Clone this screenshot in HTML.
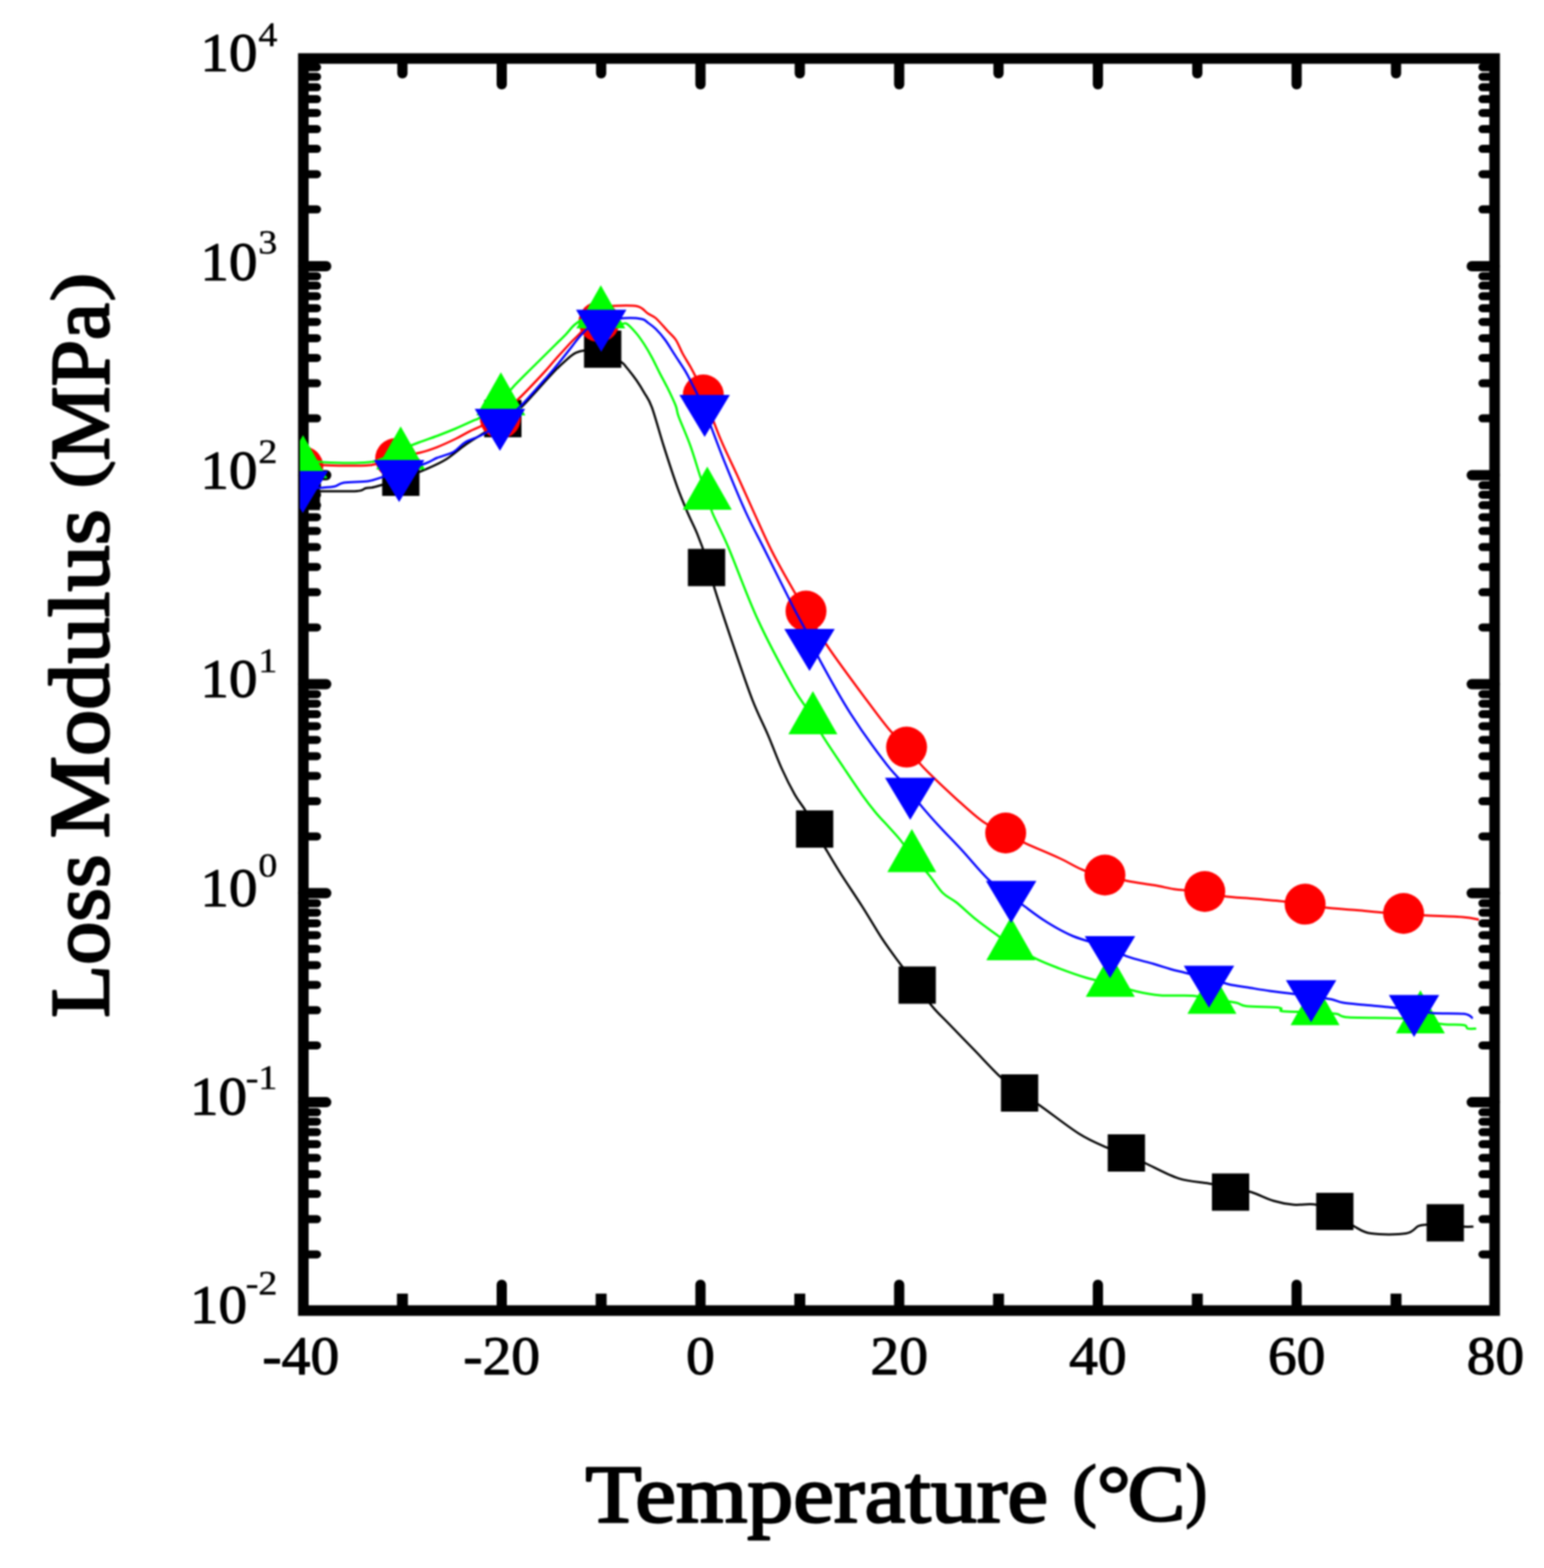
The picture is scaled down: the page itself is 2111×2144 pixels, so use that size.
<!DOCTYPE html>
<html><head><meta charset="utf-8"><title>Loss Modulus vs Temperature</title>
<style>html,body{margin:0;padding:0;background:#fff;width:2111px;height:2144px;overflow:hidden}svg{display:block;filter:blur(1.0px)}</style>
</head><body>
<svg width="2111" height="2144" viewBox="0 0 2111 2144"><g stroke="#000" stroke-width="14" stroke-linecap="round"><line x1="550.2" y1="1792.0" x2="550.2" y2="1768.8" stroke-linecap="butt" stroke-width="15"/><line x1="550.2" y1="80.0" x2="550.2" y2="100.2"/><line x1="686.0" y1="1792.0" x2="686.0" y2="1756.8"/><line x1="686.0" y1="80.0" x2="686.0" y2="115.2"/><line x1="821.9" y1="1792.0" x2="821.9" y2="1768.8" stroke-linecap="butt" stroke-width="15"/><line x1="821.9" y1="80.0" x2="821.9" y2="100.2"/><line x1="957.7" y1="1792.0" x2="957.7" y2="1756.8"/><line x1="957.7" y1="80.0" x2="957.7" y2="115.2"/><line x1="1093.5" y1="1792.0" x2="1093.5" y2="1768.8" stroke-linecap="butt" stroke-width="15"/><line x1="1093.5" y1="80.0" x2="1093.5" y2="100.2"/><line x1="1229.4" y1="1792.0" x2="1229.4" y2="1756.8"/><line x1="1229.4" y1="80.0" x2="1229.4" y2="115.2"/><line x1="1365.2" y1="1792.0" x2="1365.2" y2="1768.8" stroke-linecap="butt" stroke-width="15"/><line x1="1365.2" y1="80.0" x2="1365.2" y2="100.2"/><line x1="1501.1" y1="1792.0" x2="1501.1" y2="1756.8"/><line x1="1501.1" y1="80.0" x2="1501.1" y2="115.2"/><line x1="1637.0" y1="1792.0" x2="1637.0" y2="1768.8" stroke-linecap="butt" stroke-width="15"/><line x1="1637.0" y1="80.0" x2="1637.0" y2="100.2"/><line x1="1772.8" y1="1792.0" x2="1772.8" y2="1756.8"/><line x1="1772.8" y1="80.0" x2="1772.8" y2="115.2"/><line x1="1908.7" y1="1792.0" x2="1908.7" y2="1768.8" stroke-linecap="butt" stroke-width="15"/><line x1="1908.7" y1="80.0" x2="1908.7" y2="100.2"/><line x1="414.8" y1="1507.1" x2="446.0" y2="1507.1"/><line x1="2043.5" y1="1507.1" x2="2012.2" y2="1507.1"/><line x1="414.8" y1="1221.3" x2="446.0" y2="1221.3"/><line x1="2043.5" y1="1221.3" x2="2012.2" y2="1221.3"/><line x1="414.8" y1="935.5" x2="446.0" y2="935.5"/><line x1="2043.5" y1="935.5" x2="2012.2" y2="935.5"/><line x1="414.8" y1="649.8" x2="446.0" y2="649.8"/><line x1="2043.5" y1="649.8" x2="2012.2" y2="649.8"/><line x1="414.8" y1="364.0" x2="446.0" y2="364.0"/><line x1="2043.5" y1="364.0" x2="2012.2" y2="364.0"/></g>
<g stroke="#000" stroke-width="11" stroke-linecap="round"><line x1="414.8" y1="1715.2" x2="433.5" y2="1715.2"/><line x1="2043.5" y1="1715.2" x2="2026.8" y2="1715.2"/><line x1="414.8" y1="1667.1" x2="433.5" y2="1667.1"/><line x1="2043.5" y1="1667.1" x2="2026.8" y2="1667.1"/><line x1="414.8" y1="1632.5" x2="433.5" y2="1632.5"/><line x1="2043.5" y1="1632.5" x2="2026.8" y2="1632.5"/><line x1="414.8" y1="1605.5" x2="433.5" y2="1605.5"/><line x1="2043.5" y1="1605.5" x2="2026.8" y2="1605.5"/><line x1="414.8" y1="1583.3" x2="433.5" y2="1583.3"/><line x1="2043.5" y1="1583.3" x2="2026.8" y2="1583.3"/><line x1="414.8" y1="1564.5" x2="433.5" y2="1564.5"/><line x1="2043.5" y1="1564.5" x2="2026.8" y2="1564.5"/><line x1="414.8" y1="1548.1" x2="433.5" y2="1548.1"/><line x1="2043.5" y1="1548.1" x2="2026.8" y2="1548.1"/><line x1="414.8" y1="1533.7" x2="433.5" y2="1533.7"/><line x1="2043.5" y1="1533.7" x2="2026.8" y2="1533.7"/><line x1="414.8" y1="1520.8" x2="433.5" y2="1520.8"/><line x1="2043.5" y1="1520.8" x2="2026.8" y2="1520.8"/><line x1="414.8" y1="1429.4" x2="433.5" y2="1429.4"/><line x1="2043.5" y1="1429.4" x2="2026.8" y2="1429.4"/><line x1="414.8" y1="1381.3" x2="433.5" y2="1381.3"/><line x1="2043.5" y1="1381.3" x2="2026.8" y2="1381.3"/><line x1="414.8" y1="1346.7" x2="433.5" y2="1346.7"/><line x1="2043.5" y1="1346.7" x2="2026.8" y2="1346.7"/><line x1="414.8" y1="1319.7" x2="433.5" y2="1319.7"/><line x1="2043.5" y1="1319.7" x2="2026.8" y2="1319.7"/><line x1="414.8" y1="1297.5" x2="433.5" y2="1297.5"/><line x1="2043.5" y1="1297.5" x2="2026.8" y2="1297.5"/><line x1="414.8" y1="1278.7" x2="433.5" y2="1278.7"/><line x1="2043.5" y1="1278.7" x2="2026.8" y2="1278.7"/><line x1="414.8" y1="1262.4" x2="433.5" y2="1262.4"/><line x1="2043.5" y1="1262.4" x2="2026.8" y2="1262.4"/><line x1="414.8" y1="1247.9" x2="433.5" y2="1247.9"/><line x1="2043.5" y1="1247.9" x2="2026.8" y2="1247.9"/><line x1="414.8" y1="1235.0" x2="433.5" y2="1235.0"/><line x1="2043.5" y1="1235.0" x2="2026.8" y2="1235.0"/><line x1="414.8" y1="1143.7" x2="433.5" y2="1143.7"/><line x1="2043.5" y1="1143.7" x2="2026.8" y2="1143.7"/><line x1="414.8" y1="1095.5" x2="433.5" y2="1095.5"/><line x1="2043.5" y1="1095.5" x2="2026.8" y2="1095.5"/><line x1="414.8" y1="1060.9" x2="433.5" y2="1060.9"/><line x1="2043.5" y1="1060.9" x2="2026.8" y2="1060.9"/><line x1="414.8" y1="1033.9" x2="433.5" y2="1033.9"/><line x1="2043.5" y1="1033.9" x2="2026.8" y2="1033.9"/><line x1="414.8" y1="1011.7" x2="433.5" y2="1011.7"/><line x1="2043.5" y1="1011.7" x2="2026.8" y2="1011.7"/><line x1="414.8" y1="992.9" x2="433.5" y2="992.9"/><line x1="2043.5" y1="992.9" x2="2026.8" y2="992.9"/><line x1="414.8" y1="976.6" x2="433.5" y2="976.6"/><line x1="2043.5" y1="976.6" x2="2026.8" y2="976.6"/><line x1="414.8" y1="962.2" x2="433.5" y2="962.2"/><line x1="2043.5" y1="962.2" x2="2026.8" y2="962.2"/><line x1="414.8" y1="949.2" x2="433.5" y2="949.2"/><line x1="2043.5" y1="949.2" x2="2026.8" y2="949.2"/><line x1="414.8" y1="857.9" x2="433.5" y2="857.9"/><line x1="2043.5" y1="857.9" x2="2026.8" y2="857.9"/><line x1="414.8" y1="809.8" x2="433.5" y2="809.8"/><line x1="2043.5" y1="809.8" x2="2026.8" y2="809.8"/><line x1="414.8" y1="775.2" x2="433.5" y2="775.2"/><line x1="2043.5" y1="775.2" x2="2026.8" y2="775.2"/><line x1="414.8" y1="748.1" x2="433.5" y2="748.1"/><line x1="2043.5" y1="748.1" x2="2026.8" y2="748.1"/><line x1="414.8" y1="726.0" x2="433.5" y2="726.0"/><line x1="2043.5" y1="726.0" x2="2026.8" y2="726.0"/><line x1="414.8" y1="707.2" x2="433.5" y2="707.2"/><line x1="2043.5" y1="707.2" x2="2026.8" y2="707.2"/><line x1="414.8" y1="690.8" x2="433.5" y2="690.8"/><line x1="2043.5" y1="690.8" x2="2026.8" y2="690.8"/><line x1="414.8" y1="676.4" x2="433.5" y2="676.4"/><line x1="2043.5" y1="676.4" x2="2026.8" y2="676.4"/><line x1="414.8" y1="663.5" x2="433.5" y2="663.5"/><line x1="2043.5" y1="663.5" x2="2026.8" y2="663.5"/><line x1="414.8" y1="572.1" x2="433.5" y2="572.1"/><line x1="2043.5" y1="572.1" x2="2026.8" y2="572.1"/><line x1="414.8" y1="524.0" x2="433.5" y2="524.0"/><line x1="2043.5" y1="524.0" x2="2026.8" y2="524.0"/><line x1="414.8" y1="489.4" x2="433.5" y2="489.4"/><line x1="2043.5" y1="489.4" x2="2026.8" y2="489.4"/><line x1="414.8" y1="462.4" x2="433.5" y2="462.4"/><line x1="2043.5" y1="462.4" x2="2026.8" y2="462.4"/><line x1="414.8" y1="440.2" x2="433.5" y2="440.2"/><line x1="2043.5" y1="440.2" x2="2026.8" y2="440.2"/><line x1="414.8" y1="421.4" x2="433.5" y2="421.4"/><line x1="2043.5" y1="421.4" x2="2026.8" y2="421.4"/><line x1="414.8" y1="405.1" x2="433.5" y2="405.1"/><line x1="2043.5" y1="405.1" x2="2026.8" y2="405.1"/><line x1="414.8" y1="390.6" x2="433.5" y2="390.6"/><line x1="2043.5" y1="390.6" x2="2026.8" y2="390.6"/><line x1="414.8" y1="377.7" x2="433.5" y2="377.7"/><line x1="2043.5" y1="377.7" x2="2026.8" y2="377.7"/><line x1="414.8" y1="286.3" x2="433.5" y2="286.3"/><line x1="2043.5" y1="286.3" x2="2026.8" y2="286.3"/><line x1="414.8" y1="238.2" x2="433.5" y2="238.2"/><line x1="2043.5" y1="238.2" x2="2026.8" y2="238.2"/><line x1="414.8" y1="203.6" x2="433.5" y2="203.6"/><line x1="2043.5" y1="203.6" x2="2026.8" y2="203.6"/><line x1="414.8" y1="176.6" x2="433.5" y2="176.6"/><line x1="2043.5" y1="176.6" x2="2026.8" y2="176.6"/><line x1="414.8" y1="154.4" x2="433.5" y2="154.4"/><line x1="2043.5" y1="154.4" x2="2026.8" y2="154.4"/><line x1="414.8" y1="135.6" x2="433.5" y2="135.6"/><line x1="2043.5" y1="135.6" x2="2026.8" y2="135.6"/><line x1="414.8" y1="119.3" x2="433.5" y2="119.3"/><line x1="2043.5" y1="119.3" x2="2026.8" y2="119.3"/><line x1="414.8" y1="104.9" x2="433.5" y2="104.9"/><line x1="2043.5" y1="104.9" x2="2026.8" y2="104.9"/><line x1="414.8" y1="91.9" x2="433.5" y2="91.9"/><line x1="2043.5" y1="91.9" x2="2026.8" y2="91.9"/></g>
<rect x="414.75" y="80.00" width="1628.75" height="1712.00" fill="none" stroke="#000" stroke-width="14.5"/>
<defs><clipPath id="pa"><rect x="410" y="80" width="1640" height="1712"/></clipPath></defs>
<g clip-path="url(#pa)">
<path d="M422.0,672.0 C424.3,672.0 425.0,671.8 436.0,671.7 C447.0,671.6 477.3,672.2 488.0,671.5 C498.7,670.8 495.9,668.5 500.0,667.5 C504.1,666.5 504.6,667.9 512.6,665.8 C520.6,663.7 535.9,659.2 548.0,655.0 C560.1,650.8 574.8,644.8 585.2,640.3 C595.6,635.8 602.0,633.0 610.4,627.7 C618.8,622.4 627.2,614.6 635.6,608.7 C644.0,602.8 652.2,598.0 660.8,592.4 C669.4,586.8 678.6,580.7 687.0,575.0 C695.4,569.3 699.9,569.1 711.3,558.3 C722.7,547.5 744.6,521.6 755.4,510.4 C766.1,499.1 770.5,495.4 775.8,490.8 C781.0,486.2 783.0,484.6 786.9,482.7 C790.8,480.8 792.7,479.6 798.9,479.2 C805.1,478.8 815.6,477.4 824.0,480.0 C832.4,482.6 843.9,491.3 849.3,495.0 C854.7,498.7 853.1,498.2 856.6,502.4 C860.1,506.6 866.3,514.4 870.3,520.2 C874.3,526.0 877.3,530.9 880.8,537.0 C884.3,543.1 886.9,544.9 891.3,557.0 C895.7,569.1 901.7,591.8 907.4,609.8 C913.1,627.8 920.2,649.7 925.7,665.0 C931.2,680.3 935.8,690.9 940.4,701.7 C945.0,712.5 949.0,719.5 953.3,730.0 C957.6,740.5 962.0,752.5 966.0,765.0 C970.0,777.5 970.8,785.0 977.0,804.8 C983.2,824.6 994.4,858.4 1003.0,883.8 C1011.6,909.2 1020.9,936.8 1028.7,957.0 C1036.5,977.2 1043.4,989.5 1050.0,1005.0 C1056.6,1020.5 1062.3,1036.4 1068.4,1050.0 C1074.5,1063.6 1081.3,1077.0 1086.8,1086.8 C1092.3,1096.6 1097.0,1100.8 1101.5,1108.8 C1106.0,1116.8 1109.1,1125.8 1114.0,1135.0 C1118.9,1144.2 1124.7,1153.7 1130.9,1164.0 C1137.1,1174.3 1143.0,1184.5 1151.0,1197.0 C1159.0,1209.5 1169.5,1224.9 1178.7,1239.3 C1187.9,1253.7 1197.7,1270.8 1206.0,1283.4 C1214.3,1296.0 1220.3,1303.9 1228.3,1314.7 C1236.3,1325.5 1246.3,1337.8 1254.0,1348.0 C1261.7,1358.2 1267.6,1367.7 1274.7,1376.2 C1281.8,1384.8 1287.2,1389.5 1296.7,1399.3 C1306.2,1409.1 1319.9,1423.1 1331.4,1435.0 C1343.0,1446.9 1355.6,1461.0 1366.0,1470.8 C1376.4,1480.6 1384.9,1487.3 1394.0,1494.0 C1403.1,1500.7 1407.0,1501.4 1420.5,1510.7 C1434.0,1520.0 1459.6,1540.3 1475.0,1550.0 C1490.4,1559.7 1501.9,1564.1 1512.7,1568.8 C1523.5,1573.5 1531.0,1574.3 1540.0,1578.0 C1549.0,1581.7 1555.0,1585.4 1567.0,1591.0 C1579.0,1596.6 1597.4,1606.9 1611.7,1611.4 C1626.0,1616.0 1640.9,1616.2 1652.6,1618.3 C1664.3,1620.4 1672.3,1622.0 1682.0,1624.0 C1691.7,1626.0 1700.8,1627.0 1710.7,1630.0 C1720.6,1633.0 1731.7,1639.1 1741.4,1642.0 C1751.1,1644.9 1759.0,1646.4 1768.7,1647.3 C1778.4,1648.2 1790.1,1645.2 1799.5,1647.3 C1808.9,1649.4 1816.5,1655.2 1825.0,1660.0 C1833.5,1664.8 1842.3,1671.9 1850.6,1676.3 C1858.9,1680.7 1862.6,1684.9 1874.6,1686.6 C1886.6,1688.3 1911.6,1688.3 1922.4,1686.6 C1933.2,1684.9 1934.6,1678.3 1939.4,1676.3 C1944.2,1674.3 1945.3,1674.8 1951.4,1674.6 C1957.5,1674.4 1967.7,1674.5 1976.0,1675.0 C1984.3,1675.5 1994.6,1676.9 2001.0,1677.3 C2007.4,1677.7 2012.2,1677.3 2014.5,1677.3" fill="none" stroke="#000" stroke-width="3" stroke-linejoin="round"/>
<rect x="386.5" y="646.5" width="51" height="51" fill="#000"/>
<rect x="522.5" y="627.1" width="51" height="51" fill="#000"/>
<rect x="662.0" y="546.9" width="51" height="51" fill="#000"/>
<rect x="798.5" y="451.9" width="51" height="51" fill="#000"/>
<rect x="940.5" y="750.5" width="51" height="51" fill="#000"/>
<rect x="1088.3" y="1108.1" width="51" height="51" fill="#000"/>
<rect x="1228.5" y="1321.5" width="51" height="51" fill="#000"/>
<rect x="1368.5" y="1469.0" width="51" height="51" fill="#000"/>
<rect x="1514.5" y="1551.0" width="51" height="51" fill="#000"/>
<rect x="1657.0" y="1604.5" width="51" height="51" fill="#000"/>
<rect x="1799.5" y="1631.0" width="51" height="51" fill="#000"/>
<rect x="1950.5" y="1646.5" width="51" height="51" fill="#000"/>
<path d="M416.0,626.0 C418.3,626.7 425.7,628.3 430.0,630.0 C434.3,631.7 429.3,635.0 442.0,636.0 C454.7,637.0 491.3,637.3 506.0,636.0 C520.7,634.7 522.3,630.3 530.0,628.0 C537.7,625.7 544.7,623.5 552.0,622.0 C559.3,620.5 566.4,620.8 574.0,619.0 C581.6,617.2 589.6,614.5 597.8,611.3 C606.0,608.1 615.6,603.6 623.0,600.0 C630.4,596.4 635.7,593.0 642.0,589.8 C648.3,586.6 653.8,585.1 660.8,581.0 C667.8,576.9 676.0,570.9 684.0,565.0 C692.0,559.1 698.9,554.8 708.7,545.7 C718.5,536.6 734.2,519.5 742.8,510.4 C751.3,501.2 753.6,497.9 760.0,490.8 C766.4,483.7 775.2,473.8 781.0,467.7 C786.8,461.6 790.2,459.3 794.7,454.0 C799.2,448.7 803.5,441.5 808.0,436.0 C812.5,430.5 816.9,423.9 822.0,421.0 C827.1,418.1 830.6,418.7 838.8,418.3 C847.0,417.9 863.4,417.1 871.3,418.8 C879.2,420.6 881.8,426.1 886.0,428.8 C890.2,431.5 892.2,431.1 896.6,435.0 C901.0,438.9 907.8,447.1 912.3,452.0 C916.8,456.9 920.4,459.3 923.9,464.5 C927.4,469.7 930.0,477.3 933.3,483.4 C936.6,489.5 940.8,496.0 943.8,501.3 C946.8,506.6 948.0,508.6 951.0,515.0 C954.0,521.5 956.3,525.8 962.0,540.0 C967.7,554.2 977.3,581.7 985.0,600.0 C992.7,618.3 1000.4,633.3 1008.0,650.0 C1015.6,666.7 1022.5,682.5 1030.5,700.0 C1038.5,717.5 1046.8,736.9 1056.0,755.0 C1065.2,773.1 1077.9,795.2 1085.6,808.5 C1093.3,821.8 1094.3,822.5 1102.0,835.0 C1109.7,847.5 1117.8,863.4 1131.6,883.8 C1145.4,904.2 1170.9,938.4 1185.0,957.4 C1199.1,976.4 1206.9,987.1 1216.0,997.8 C1225.1,1008.5 1231.6,1012.9 1239.5,1021.6 C1247.4,1030.3 1251.9,1038.2 1263.2,1050.0 C1274.5,1061.8 1293.9,1080.0 1307.4,1092.3 C1320.9,1104.5 1332.7,1115.7 1344.0,1123.5 C1355.3,1131.3 1365.2,1134.0 1375.0,1139.0 C1384.8,1144.0 1390.4,1147.5 1402.7,1153.3 C1415.0,1159.0 1435.5,1167.4 1448.7,1173.5 C1461.9,1179.6 1471.5,1186.2 1481.8,1190.0 C1492.1,1193.8 1500.6,1194.0 1510.7,1196.5 C1520.8,1199.0 1531.3,1202.5 1542.4,1204.8 C1553.5,1207.1 1567.0,1208.5 1577.4,1210.3 C1587.8,1212.1 1597.7,1214.6 1605.0,1215.8 C1612.3,1217.0 1614.5,1216.9 1621.5,1217.4 C1628.5,1217.9 1638.4,1217.6 1647.0,1219.0 C1655.6,1220.4 1661.8,1223.9 1673.3,1225.6 C1684.8,1227.3 1702.2,1227.8 1716.0,1229.0 C1729.8,1230.2 1744.7,1231.5 1756.0,1232.7 C1767.3,1233.9 1774.5,1234.6 1784.0,1236.0 C1793.5,1237.4 1800.9,1239.6 1812.7,1241.0 C1824.5,1242.4 1841.6,1243.3 1855.0,1244.5 C1868.4,1245.7 1882.3,1247.2 1893.0,1248.0 C1903.7,1248.8 1910.2,1248.4 1919.0,1249.0 C1927.8,1249.6 1932.5,1250.8 1946.0,1251.6 C1959.5,1252.4 1987.3,1253.0 2000.0,1254.0 C2012.7,1255.0 2018.3,1256.9 2022.0,1257.5" fill="none" stroke="#f00" stroke-width="3" stroke-linejoin="round"/>
<circle cx="414.0" cy="638.0" r="28.0" fill="#f00"/>
<circle cx="541.0" cy="627.0" r="28.0" fill="#f00"/>
<circle cx="684.0" cy="572.0" r="28.0" fill="#f00"/>
<circle cx="819.0" cy="440.0" r="28.0" fill="#f00"/>
<circle cx="961.6" cy="540.0" r="28.0" fill="#f00"/>
<circle cx="1102.0" cy="835.5" r="28.0" fill="#f00"/>
<circle cx="1239.5" cy="1021.6" r="28.0" fill="#f00"/>
<circle cx="1375.0" cy="1139.0" r="28.0" fill="#f00"/>
<circle cx="1510.7" cy="1196.5" r="28.0" fill="#f00"/>
<circle cx="1647.2" cy="1219.0" r="28.0" fill="#f00"/>
<circle cx="1784.4" cy="1236.3" r="28.0" fill="#f00"/>
<circle cx="1919.0" cy="1249.0" r="28.0" fill="#f00"/>
<path d="M416.0,628.0 C420.3,628.7 427.3,631.3 442.0,632.0 C456.7,632.7 489.3,633.3 504.0,632.0 C518.7,630.7 522.7,626.8 530.0,624.0 C537.3,621.2 540.9,618.2 548.0,615.0 C555.1,611.8 564.3,608.2 572.6,605.0 C580.9,601.8 589.4,599.2 597.8,596.0 C606.2,592.8 614.6,589.5 623.0,586.0 C631.4,582.5 642.7,577.2 648.2,574.7 C653.7,572.2 649.8,575.1 655.8,571.0 C661.8,566.9 676.0,557.4 684.0,550.0 C692.0,542.6 695.0,536.1 703.7,526.8 C712.5,517.5 727.1,503.3 736.5,494.0 C745.9,484.7 753.8,476.9 760.0,470.8 C766.2,464.7 769.3,461.8 773.7,457.2 C778.1,452.6 781.1,447.7 786.3,443.5 C791.5,439.3 799.0,434.2 805.0,432.0 C811.0,429.8 815.0,428.2 822.0,430.0 C829.0,431.8 841.4,440.4 847.2,442.5 C853.0,444.6 852.8,440.2 856.6,442.5 C860.5,444.8 866.3,451.4 870.3,456.1 C874.3,460.8 877.3,465.4 880.8,470.8 C884.3,476.2 887.8,482.2 891.3,488.7 C894.8,495.2 898.3,502.9 901.8,509.7 C905.3,516.5 908.6,522.2 912.3,529.7 C916.0,537.2 921.3,548.2 923.9,554.9 C926.5,561.6 924.6,560.9 928.0,570.0 C931.4,579.1 938.9,595.5 944.0,609.8 C949.1,624.1 955.0,644.8 958.8,655.7 C962.6,666.6 964.5,667.6 967.0,675.0 C969.5,682.4 968.7,687.9 973.5,700.0 C978.3,712.1 985.2,723.3 995.6,747.8 C1006.0,772.3 1021.3,815.1 1036.0,847.0 C1050.7,878.9 1071.3,916.8 1083.8,939.0 C1096.3,961.2 1104.3,969.0 1111.0,980.0 C1117.7,991.0 1116.9,993.3 1124.0,1005.0 C1131.1,1016.7 1144.6,1036.4 1153.7,1050.0 C1162.8,1063.6 1171.5,1076.7 1178.7,1086.8 C1185.9,1096.9 1190.9,1103.3 1197.0,1110.7 C1203.1,1118.1 1209.9,1124.9 1215.4,1131.0 C1220.9,1137.1 1224.7,1140.9 1230.0,1147.4 C1235.3,1153.9 1240.2,1161.7 1247.0,1170.0 C1253.8,1178.3 1263.6,1188.5 1270.6,1197.0 C1277.6,1205.5 1282.9,1214.9 1289.0,1221.0 C1295.1,1227.1 1299.7,1227.7 1307.4,1233.8 C1315.1,1239.9 1325.8,1250.3 1335.0,1257.7 C1344.2,1265.1 1354.7,1272.3 1362.5,1278.0 C1370.3,1283.7 1372.8,1286.4 1382.0,1292.0 C1391.2,1297.6 1406.3,1306.0 1417.4,1311.4 C1428.5,1316.8 1437.4,1320.0 1448.7,1324.3 C1460.0,1328.6 1473.9,1333.5 1485.4,1337.0 C1497.0,1340.5 1506.7,1341.9 1518.0,1345.0 C1529.3,1348.1 1542.1,1352.8 1553.5,1355.5 C1564.9,1358.2 1573.6,1360.0 1586.5,1361.0 C1599.4,1362.0 1619.0,1360.7 1630.7,1361.5 C1642.5,1362.3 1647.2,1364.4 1657.0,1366.0 C1666.8,1367.6 1682.0,1369.4 1689.8,1371.0 C1697.6,1372.6 1694.1,1374.5 1704.0,1375.7 C1713.9,1376.9 1740.7,1376.8 1749.0,1378.0 C1757.3,1379.2 1745.4,1381.8 1753.6,1382.8 C1761.8,1383.8 1785.8,1383.4 1798.0,1384.0 C1810.2,1384.6 1819.4,1385.1 1827.0,1386.3 C1834.6,1387.5 1829.2,1390.0 1843.4,1391.0 C1857.6,1392.0 1895.6,1391.5 1912.0,1392.3 C1928.4,1393.1 1931.8,1394.6 1942.0,1396.0 C1952.2,1397.4 1963.4,1399.5 1973.4,1400.5 C1983.4,1401.5 1996.3,1400.7 2001.8,1401.7 C2007.3,1402.7 2003.8,1405.6 2006.5,1406.4 C2009.2,1407.2 2016.3,1406.4 2018.3,1406.4" fill="none" stroke="#0f0" stroke-width="3" stroke-linejoin="round"/>
<polygon points="380.8,654.0 447.8,654.0 414.3,595.0" fill="#0f0"/>
<polygon points="514.3,642.0 581.3,642.0 547.8,583.0" fill="#0f0"/>
<polygon points="651.3,568.0 718.3,568.0 684.8,509.0" fill="#0f0"/>
<polygon points="787.9,449.0 854.9,449.0 821.4,390.0" fill="#0f0"/>
<polygon points="933.5,697.0 1000.5,697.0 967.0,638.0" fill="#0f0"/>
<polygon points="1077.9,1004.0 1144.9,1004.0 1111.4,945.0" fill="#0f0"/>
<polygon points="1213.2,1192.5 1280.2,1192.5 1246.7,1133.5" fill="#0f0"/>
<polygon points="1348.5,1313.0 1415.5,1313.0 1382.0,1254.0" fill="#0f0"/>
<polygon points="1484.5,1363.0 1551.5,1363.0 1518.0,1304.0" fill="#0f0"/>
<polygon points="1623.5,1386.3 1690.5,1386.3 1657.0,1327.3" fill="#0f0"/>
<polygon points="1764.5,1401.7 1831.5,1401.7 1798.0,1342.7" fill="#0f0"/>
<polygon points="1908.5,1413.0 1975.5,1413.0 1942.0,1354.0" fill="#0f0"/>
<path d="M416.0,668.0 C419.7,667.8 431.0,667.5 438.0,667.0 C445.0,666.5 452.7,666.2 458.0,665.0 C463.3,663.8 462.5,661.2 470.0,660.0 C477.5,658.8 494.3,659.2 503.0,658.0 C511.7,656.8 515.0,654.8 522.0,652.6 C529.0,650.4 535.0,648.2 545.0,645.0 C555.0,641.8 573.4,636.7 582.2,633.5 C591.0,630.3 591.3,628.6 597.6,626.0 C603.9,623.4 613.7,621.5 620.0,618.0 C626.3,614.5 629.2,608.8 635.6,605.0 C642.0,601.2 650.4,599.2 658.3,595.0 C666.2,590.8 674.2,586.5 683.0,580.0 C691.8,573.5 700.3,566.8 711.3,555.8 C722.3,544.8 740.9,523.3 749.0,514.2 C757.1,505.1 754.7,507.8 760.0,501.3 C765.3,494.8 775.8,481.6 781.0,475.0 C786.2,468.4 787.5,465.9 791.5,461.4 C795.5,456.9 799.9,451.6 805.0,448.0 C810.1,444.4 813.9,442.2 822.0,440.0 C830.1,437.8 844.2,435.6 853.5,435.0 C862.8,434.4 872.2,435.1 877.6,436.2 C883.0,437.3 882.8,439.1 886.0,441.4 C889.2,443.7 892.7,445.9 896.6,449.8 C900.5,453.7 904.8,458.6 909.2,464.5 C913.6,470.4 918.2,478.5 922.8,485.5 C927.3,492.5 932.8,500.5 936.5,506.6 C940.2,512.7 940.5,513.4 944.9,522.3 C949.3,531.2 955.5,542.0 963.0,560.0 C970.5,578.0 980.6,606.7 990.0,630.0 C999.4,653.3 1010.0,679.2 1019.5,700.0 C1029.0,720.8 1036.3,733.5 1047.0,755.0 C1057.7,776.5 1074.0,809.5 1083.8,828.7 C1093.6,847.9 1099.9,857.8 1106.0,870.0 C1112.1,882.2 1111.1,884.4 1120.6,902.0 C1130.1,919.6 1147.6,951.8 1162.9,975.7 C1178.2,999.6 1199.0,1028.2 1212.5,1045.6 C1226.0,1063.0 1236.5,1071.0 1244.0,1080.0 C1251.5,1089.0 1251.1,1091.4 1257.7,1099.6 C1264.3,1107.8 1273.6,1118.3 1283.4,1129.0 C1293.2,1139.7 1305.2,1151.7 1316.5,1164.0 C1327.8,1176.3 1340.6,1192.4 1351.5,1202.6 C1362.4,1212.8 1374.1,1219.1 1382.0,1225.0 C1389.9,1230.9 1391.0,1232.1 1399.0,1237.9 C1407.0,1243.7 1418.7,1253.0 1430.0,1260.0 C1441.3,1267.0 1452.5,1274.0 1467.0,1280.0 C1481.5,1286.0 1504.7,1291.4 1517.0,1296.0 C1529.3,1300.6 1530.5,1304.0 1540.6,1307.7 C1550.7,1311.4 1567.5,1315.1 1577.4,1318.0 C1587.3,1320.9 1592.9,1323.0 1600.0,1325.0 C1607.1,1327.0 1611.2,1327.8 1620.0,1330.0 C1628.8,1332.2 1642.9,1335.3 1653.0,1338.0 C1663.1,1340.7 1671.7,1344.0 1680.4,1346.0 C1689.1,1348.0 1695.7,1348.5 1705.0,1350.0 C1714.3,1351.5 1726.7,1353.7 1736.0,1355.0 C1745.3,1356.3 1751.4,1356.8 1760.7,1358.0 C1770.0,1359.2 1782.2,1360.6 1792.0,1362.0 C1801.8,1363.4 1812.4,1364.8 1819.8,1366.3 C1827.2,1367.8 1828.8,1369.7 1836.3,1371.0 C1843.8,1372.3 1854.8,1373.0 1865.0,1374.0 C1875.2,1375.0 1886.5,1375.8 1897.8,1377.0 C1909.1,1378.2 1922.8,1379.6 1933.0,1381.0 C1943.2,1382.4 1947.7,1384.3 1959.2,1385.2 C1970.7,1386.1 1992.7,1385.1 2001.8,1386.3 C2010.9,1387.5 2011.6,1391.3 2013.6,1392.3" fill="none" stroke="#00f" stroke-width="3" stroke-linejoin="round"/>
<polygon points="379.5,644.0 448.5,644.0 414.0,701.5" fill="#00f"/>
<polygon points="511.2,629.0 580.2,629.0 545.7,686.5" fill="#00f"/>
<polygon points="649.0,559.0 718.0,559.0 683.5,616.5" fill="#00f"/>
<polygon points="787.5,423.6 856.5,423.6 822.0,481.1" fill="#00f"/>
<polygon points="928.9,540.0 997.9,540.0 963.4,597.5" fill="#00f"/>
<polygon points="1072.3,860.0 1141.3,860.0 1106.8,917.5" fill="#00f"/>
<polygon points="1210.0,1063.5 1279.0,1063.5 1244.5,1121.0" fill="#00f"/>
<polygon points="1348.0,1204.6 1417.0,1204.6 1382.5,1262.1" fill="#00f"/>
<polygon points="1483.1,1280.0 1552.1,1280.0 1517.6,1337.5" fill="#00f"/>
<polygon points="1618.5,1320.4 1687.5,1320.4 1653.0,1377.9" fill="#00f"/>
<polygon points="1758.1,1340.3 1827.1,1340.3 1792.6,1397.8" fill="#00f"/>
<polygon points="1898.8,1360.4 1967.8,1360.4 1933.3,1417.9" fill="#00f"/>
</g>
<g font-family="'Liberation Serif', serif" fill="#000" stroke="#000" stroke-width="1.4" stroke-linejoin="round"><text transform="translate(337.7,1809.3) scale(1.04,1)" font-size="75" font-weight="normal" text-anchor="end">10</text><text transform="translate(379.0,1770.1) scale(1.1,1)" font-size="47" font-weight="normal" stroke-width="0.6" text-anchor="end">-2</text><text transform="translate(337.7,1523.9) scale(1.04,1)" font-size="75" font-weight="normal" text-anchor="end">10</text><text transform="translate(379.0,1489.1) scale(1.1,1)" font-size="47" font-weight="normal" stroke-width="0.6" text-anchor="end">-1</text><text transform="translate(352.0,1238.8) scale(1.04,1)" font-size="75" font-weight="normal" text-anchor="end">10</text><text transform="translate(379.0,1199.4) scale(1.1,1)" font-size="47" font-weight="normal" stroke-width="0.6" text-anchor="end">0</text><text transform="translate(352.0,953.0) scale(1.04,1)" font-size="75" font-weight="normal" text-anchor="end">10</text><text transform="translate(379.0,919.0) scale(1.1,1)" font-size="47" font-weight="normal" stroke-width="0.6" text-anchor="end">1</text><text transform="translate(352.0,668.0) scale(1.04,1)" font-size="75" font-weight="normal" text-anchor="end">10</text><text transform="translate(379.0,633.2) scale(1.1,1)" font-size="47" font-weight="normal" stroke-width="0.6" text-anchor="end">2</text><text transform="translate(352.0,383.0) scale(1.04,1)" font-size="75" font-weight="normal" text-anchor="end">10</text><text transform="translate(379.0,347.4) scale(1.1,1)" font-size="47" font-weight="normal" stroke-width="0.6" text-anchor="end">3</text><text transform="translate(352.0,97.2) scale(1.04,1)" font-size="75" font-weight="normal" text-anchor="end">10</text><text transform="translate(379.0,62.8) scale(1.1,1)" font-size="47" font-weight="normal" stroke-width="0.6" text-anchor="end">4</text><text transform="translate(411.3,1879) scale(1.05,1)" font-size="75" font-weight="normal" text-anchor="middle">-40</text><text transform="translate(686.0,1879) scale(1.05,1)" font-size="75" font-weight="normal" text-anchor="middle">-20</text><text transform="translate(957.7,1879) scale(1.05,1)" font-size="75" font-weight="normal" text-anchor="middle">0</text><text transform="translate(1229.4,1879) scale(1.05,1)" font-size="75" font-weight="normal" text-anchor="middle">20</text><text transform="translate(1501.1,1879) scale(1.05,1)" font-size="75" font-weight="normal" text-anchor="middle">40</text><text transform="translate(1772.8,1879) scale(1.05,1)" font-size="75" font-weight="normal" text-anchor="middle">60</text><text transform="translate(2044.5,1879) scale(1.05,1)" font-size="75" font-weight="normal" text-anchor="middle">80</text></g>
<g font-family="'Liberation Serif', serif" fill="#000" stroke="#000" stroke-width="3.2" stroke-linejoin="round" font-size="116"><text transform="matrix(1.0821,0,0,0.9731,800.62,2080.90)">Temperature</text><text transform="matrix(0.8625,0,0,0.8239,1466.35,2068.88)">(</text><text transform="matrix(0.9947,0,0,0.9342,1499.72,2079.00)">°</text><text transform="matrix(1.0243,0,0,0.9383,1541.53,2079.12)">C</text><text transform="matrix(0.7636,0,0,0.8315,1621.07,2068.68)">)</text><text transform="matrix(0,-1.0187,0.9923,0,148.40,1391.54)">Loss</text><text transform="matrix(0,-1.0907,0.9974,0,148.40,1146.18)">Modulus</text><text transform="matrix(0,-1.0000,0.8202,0,136.08,668.00)">(</text><text transform="matrix(0,-0.9834,0.9923,0,148.40,629.77)">MPa</text><text transform="matrix(0,-1.0152,0.8241,0,135.57,412.23)">)</text></g></svg>
</body></html>
